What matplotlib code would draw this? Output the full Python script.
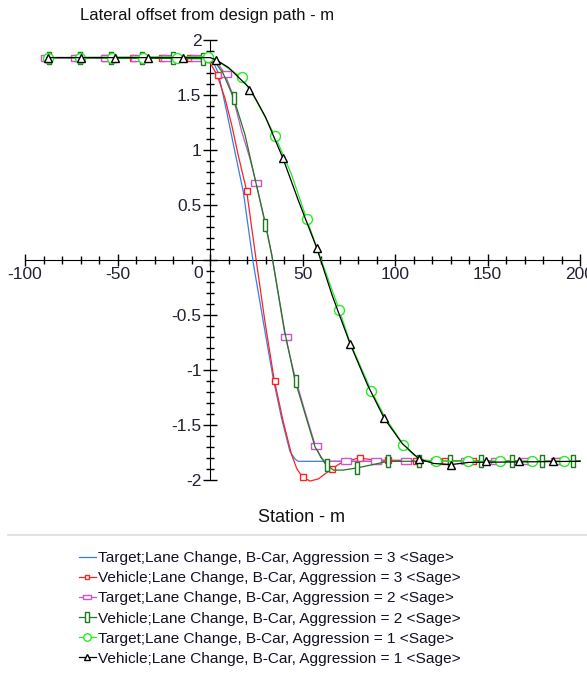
import numpy as np
import matplotlib
matplotlib.use("Agg")
import matplotlib.pyplot as plt
from matplotlib.lines import Line2D
from matplotlib.ticker import MultipleLocator, FuncFormatter

plt.rcParams["font.family"] = ["Liberation Sans", "DejaVu Sans"]
plt.rcParams["axes.unicode_minus"] = False

# ----------------
# DATA
# ----------------
labels = [
    "Target;Lane Change, B-Car, Aggression = 3 <Sage>",
    "Vehicle;Lane Change, B-Car, Aggression = 3 <Sage>",
    "Target;Lane Change, B-Car, Aggression = 2 <Sage>",
    "Vehicle;Lane Change, B-Car, Aggression = 2 <Sage>",
    "Target;Lane Change, B-Car, Aggression = 1 <Sage>",
    "Vehicle;Lane Change, B-Car, Aggression = 1 <Sage>",
]

# target, aggression 3 (no markers)
t3_x = [-88, -10, 0, 2, 4.5, 9.0, 13.5, 18.0, 23.4, 28.8, 34.2, 38.7, 43.2, 46, 47.7, 200]
t3_y = [1.84, 1.84, 1.83, 1.79, 1.70, 1.35, 0.98, 0.62, -0.03, -0.56, -1.08, -1.44, -1.74, -1.81, -1.83, -1.83]

# vehicle, aggression 3
v3_x = [-88, -3, -0.9, 3.9, 8.1, 11.7, 15.3, 19.8, 25.2, 29.7, 34.6, 39.6, 44.1, 47, 49.5, 52,
        54.0, 58.6, 64.9, 70.3, 80.2, 90, 200]
v3_y = [1.84, 1.84, 1.82, 1.68, 1.47, 1.23, 0.95, 0.63, -0.03, -0.56, -1.08, -1.47, -1.77, -1.90, -1.96, -1.99,
        -2.01, -1.99, -1.91, -1.85, -1.80, -1.82, -1.83]
v3_mx = [-87.3, -72.0, -56.7, -41.4, -26.1, -10.8, 4.5, 19.8, 35.1, 50.4, 65.7, 81.0, 96.3,
         111.6, 126.9, 142.2, 157.5, 172.8, 188.1]
v3_my = [1.84, 1.84, 1.84, 1.84, 1.84, 1.84, 1.68, 0.63, -1.10, -1.97, -1.90, -1.80, -1.82,
         -1.83, -1.83, -1.83, -1.83, -1.83, -1.83]

# target, aggression 2
t2_x = [-88, 0, 1.8, 5, 8.1, 11.7, 17.1, 21.6, 24.9, 28.8, 33.4, 40.5, 45.9, 51.4, 56.8, 60, 62.2, 200]
t2_y = [1.84, 1.84, 1.83, 1.77, 1.69, 1.53, 1.17, 0.92, 0.70, 0.41, 0.045, -0.68, -1.06, -1.38, -1.68,
        -1.80, -1.83, -1.83]
t2_mx = [-88.6, -72.4, -56.2, -40.0, -23.8, -7.6, 8.6, 24.8, 41.0, 57.2, 73.4, 89.6, 105.8,
         122.0, 138.2, 154.4, 170.6, 186.8]
t2_my = [1.84, 1.84, 1.84, 1.84, 1.84, 1.84, 1.69, 0.70, -0.70, -1.69, -1.83, -1.83, -1.83,
         -1.83, -1.83, -1.83, -1.83, -1.83]

# vehicle, aggression 2
v2_x = [-88, -3.6, 2.7, 7, 12.6, 18.9, 24.3, 30.1, 33.4, 40.5, 45.9, 51.4, 56.8, 62.2, 66.7, 72,
        79.6, 88, 96.4, 200]
v2_y = [1.84, 1.83, 1.80, 1.70, 1.48, 1.14, 0.74, 0.32, 0.045, -0.66, -1.09, -1.40, -1.70, -1.85, -1.91,
        -1.91, -1.89, -1.86, -1.83, -1.83]
v2_mx = [-86.9, -70.2, -53.6, -36.9, -20.2, -3.6, 13.1, 29.7, 46.4, 63.1, 79.7, 96.4, 113.1,
         129.7, 146.4, 163.1, 179.7, 196.4]
v2_my = [1.84, 1.84, 1.84, 1.84, 1.84, 1.83, 1.47, 0.32, -1.10, -1.86, -1.89, -1.83, -1.83,
         -1.83, -1.83, -1.83, -1.83, -1.83]

# target, aggression 1
t1_x = [-88, -0.9, 5, 10, 17.1, 25, 35.1, 44, 52.3, 58, 69.9, 75.7, 87.2, 94.6, 104.5, 110, 116, 122, 200]
t1_y = [1.84, 1.85, 1.80, 1.74, 1.66, 1.45, 1.13, 0.78, 0.37, 0.10, -0.455, -0.75, -1.19, -1.43, -1.68,
        -1.77, -1.82, -1.83, -1.83]
t1_mx = [-87.4, -70.3, -53.1, -36.0, -18.0, -0.9, 17.1, 35.1, 52.3, 69.9, 87.2, 104.5, 122.2,
         139.6, 156.8, 174.2, 191.5]
t1_my = [1.84, 1.84, 1.84, 1.84, 1.84, 1.85, 1.66, 1.13, 0.37, -0.455, -1.19, -1.68, -1.83,
         -1.83, -1.83, -1.83, -1.83]

# vehicle, aggression 1
v1_x = [-88, 0, 3.2, 10, 21.6, 30, 39.3, 48, 57.7, 66, 75.7, 85, 94.2, 104, 113.1, 121, 130.3, 140, 200]
v1_y = [1.84, 1.84, 1.82, 1.75, 1.56, 1.30, 0.93, 0.53, 0.11, -0.32, -0.76, -1.13, -1.44, -1.67, -1.81,
        -1.85, -1.86, -1.84, -1.83]
v1_mx = [-87.4, -69.5, -51.4, -33.4, -14.8, 3.2, 21.3, 39.3, 57.7, 75.7, 94.2, 113.1, 130.3,
         149.2, 167.2, 185.6]
v1_my = [1.84, 1.84, 1.84, 1.84, 1.84, 1.82, 1.55, 0.93, 0.11, -0.76, -1.44, -1.81, -1.86,
         -1.83, -1.83, -1.83]

# ----------------
# STYLE
# ----------------
BLUE = "#3a7bf0"
RED = "#ff2020"
MAGENTA = "#cc55cc"
DKGREEN = "#1e7a1e"
GREEN = "#22ee22"

wide_rect = [(-1, -0.48), (1, -0.48), (1, 0.48), (-1, 0.48), (-1, -0.48)]
tall_rect = [(-0.38, -1), (0.38, -1), (0.38, 1), (-0.38, 1), (-0.38, -1)]

fig = plt.figure(figsize=(5.87, 6.73), dpi=100)
ax = fig.add_axes([25 / 587, 1 - 480 / 673, 555 / 587, 440 / 673])

series = [
    (t3_x, t3_y, None, None, BLUE, None, 0),
    (v3_x, v3_y, v3_mx, v3_my, RED, "s", 3.8),
    (t2_x, t2_y, t2_mx, t2_my, MAGENTA, wide_rect, 7.8),
    (v2_x, v2_y, v2_mx, v2_my, DKGREEN, tall_rect, 8.7),
    (t1_x, t1_y, t1_mx, t1_my, GREEN, "o", 7.2),
    (v1_x, v1_y, v1_mx, v1_my, "black", "^", 5.2),
]

handles = []
for i, (x, y, mx, my, col, mk, ms) in enumerate(series):
    ln, = ax.plot(x, y, color=col, lw=0.9, zorder=2 + i, clip_on=False)
    if mk is None:
        handles.append(ln)
        continue
    pts, = ax.plot(mx, my, ls="none", marker=mk, ms=ms, mec=col, mfc="white",
                   mew=1.0, zorder=2 + i, clip_on=False)
    handles.append((ln, pts))

# ----------------
# AXES
# ----------------
ax.set_xlim(-100, 200)
ax.set_ylim(-2, 2)
for s in ["top", "right"]:
    ax.spines[s].set_visible(False)
ax.spines["left"].set_position(("data", 0))
ax.spines["bottom"].set_position(("data", 0))
ax.spines["left"].set_zorder(1)
ax.spines["bottom"].set_zorder(1)
ax.set_facecolor("none")

ax.xaxis.set_major_locator(MultipleLocator(50))
ax.xaxis.set_minor_locator(MultipleLocator(10))
ax.yaxis.set_major_locator(MultipleLocator(0.5))
ax.yaxis.set_minor_locator(MultipleLocator(0.1))
fmt = FuncFormatter(lambda v, p: "" if abs(v) < 1e-9 else f"{v:g}")
ax.xaxis.set_major_formatter(fmt)
ax.yaxis.set_major_formatter(fmt)

ax.tick_params(which="major", direction="inout", length=8.5, width=1.0,
               labelsize=12.5, labelcolor="#222233", pad=1)
ax.tick_params(which="minor", direction="inout", length=6, width=1.0)
ax.tick_params(axis="y", which="major", length=9.5, pad=1.5)
for lab in ax.get_xticklabels() + ax.get_yticklabels():
    lab.set_clip_on(False)

ax.annotate("0", xy=(0, 0), xytext=(-5, -4), textcoords="offset points",
            ha="right", va="top", fontsize=12.5, color="#222233")

fig.text(207 / 587, 1 - 8 / 673, "Lateral offset from design path - m",
         ha="center", va="top", fontsize=12, color="#111111")
fig.text(301 / 587, 1 - 517 / 673, "Station - m",
         ha="center", va="center", fontsize=13, color="#111111")

fig.add_artist(Line2D([8 / 587, 1.0], [1 - 535 / 673] * 2, color="#dddddd", lw=1.2))

fig.legend(handles, labels, loc="upper left", bbox_to_anchor=(79 / 587, 1 - 551 / 673),
           frameon=False, fontsize=11.1, handlelength=1.1, handletextpad=0.15,
           labelspacing=0.4, borderaxespad=0, borderpad=0, numpoints=1,
           markerscale=0.75, labelcolor="#111122")

fig.savefig("out.png", dpi=100)
